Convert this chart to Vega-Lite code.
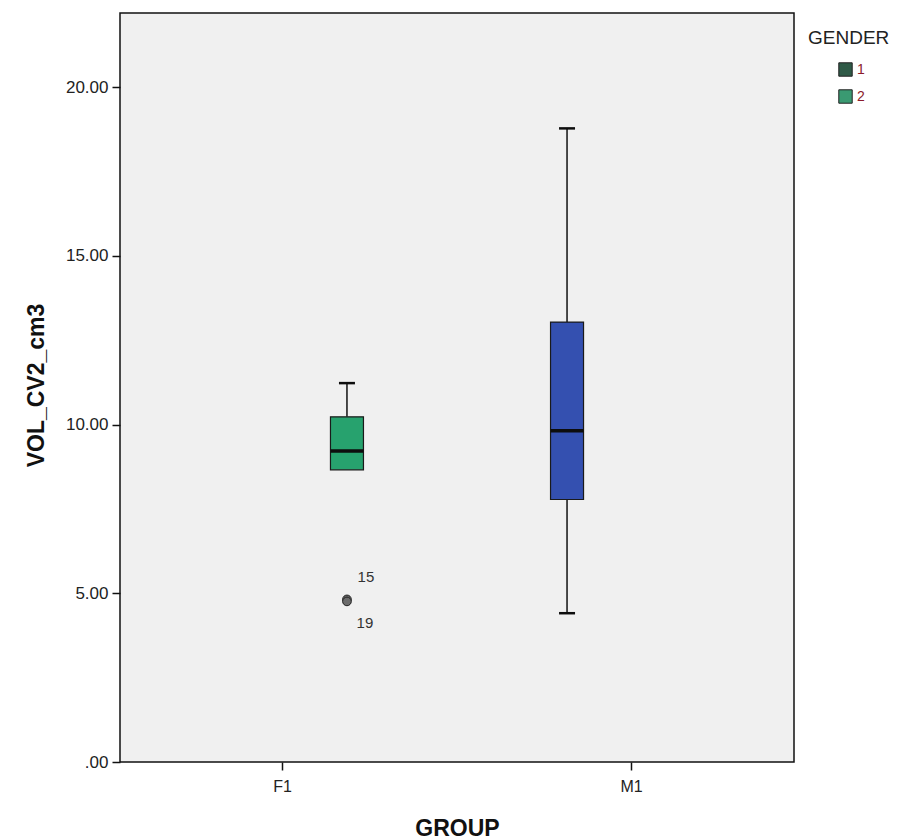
{
  "$schema": "https://vega.github.io/schema/vega-lite/v6.json",
  "width": 674,
  "height": 749,
  "autosize": {"type": "none"},
  "padding": {"left": 120, "top": 13, "right": 110, "bottom": 77},
  "background": "#ffffff",
  "config": {
    "font": "Liberation Sans",
    "view": {"fill": "#f0f0f0", "stroke": "#111111", "strokeWidth": 1.5}
  },
  "datasets": {
    "boxes": [
      {"GROUP": "F1", "GENDER": "2", "lower": 8.66, "q1": 8.66, "median": 9.22, "q3": 10.23, "upper": 11.23},
      {"GROUP": "M1", "GENDER": "1", "lower": 4.41, "q1": 7.78, "median": 9.82, "q3": 13.04, "upper": 18.78}
    ],
    "outliers": [
      {"GROUP": "F1", "GENDER": "2", "value": 4.82, "case": "15"},
      {"GROUP": "F1", "GENDER": "2", "value": 4.76, "case": "19"}
    ]
  },
  "encoding": {
    "x": {
      "field": "GROUP", "type": "nominal",
      "scale": {"domain": ["F1", "M1"], "paddingInner": 0.261, "paddingOuter": 0.096},
      "axis": {
        "title": "GROUP", "titleFontSize": 23, "titleFontWeight": "bold", "titleColor": "#111",
        "titleY": 66, "titleBaseline": "middle",
        "labelAngle": 0, "labelFontSize": 16, "labelColor": "#222", "labelPadding": 8,
        "tickSize": 8, "tickColor": "#111", "tickWidth": 1.5, "domain": false
      }
    },
    "xOffset": {
      "field": "GENDER", "type": "nominal",
      "scale": {"domain": ["1", "2"], "paddingInner": 0, "paddingOuter": 0}
    }
  },
  "layer": [
    {
      "data": {"name": "boxes"},
      "mark": {"type": "rule", "color": "#111", "strokeWidth": 1.5},
      "encoding": {
        "y": {"field": "lower", "type": "quantitative",
          "scale": {"domain": [0, 22.2], "nice": false, "zero": false},
          "axis": {
            "title": "VOL_CV2_cm3", "titleFontSize": 23, "titleFontWeight": "bold", "titleColor": "#111",
            "titleX": -84, "titleY": 372, "titleBaseline": "middle", "titleAngle": 270,
            "values": [0, 5, 10, 15, 20],
            "labelExpr": "datum.value == 0 ? '.00' : format(datum.value, '.2f')",
            "labelFontSize": 17, "labelColor": "#222", "labelPadding": 4,
            "tickSize": 8, "tickColor": "#111", "tickWidth": 1.5, "grid": false, "domain": false
          }
        },
        "y2": {"field": "q1"}
      }
    },
    {
      "data": {"name": "boxes"},
      "mark": {"type": "rule", "color": "#111", "strokeWidth": 1.5},
      "encoding": {
        "y": {"field": "q3", "type": "quantitative"},
        "y2": {"field": "upper"}
      }
    },
    {
      "data": {"name": "boxes"},
      "mark": {"type": "bar", "width": 33, "stroke": "#1a1a1a", "strokeWidth": 1.2},
      "encoding": {
        "y": {"field": "q1", "type": "quantitative"},
        "y2": {"field": "q3"},
        "fill": {"field": "GROUP", "type": "nominal",
          "scale": {"domain": ["F1", "M1"], "range": ["#27a26e", "#3450b0"]},
          "legend": null}
      }
    },
    {
      "data": {"name": "boxes"},
      "mark": {"type": "tick", "size": 33, "thickness": 3.5, "color": "#0d0d0d", "opacity": 1},
      "encoding": {"y": {"field": "median", "type": "quantitative"}}
    },
    {
      "data": {"name": "boxes"},
      "mark": {"type": "tick", "size": 16, "thickness": 2.5, "color": "#0d0d0d", "opacity": 1},
      "encoding": {"y": {"field": "upper", "type": "quantitative"}}
    },
    {
      "data": {"name": "boxes"},
      "transform": [{"filter": "datum.lower < datum.q1"}],
      "mark": {"type": "tick", "size": 16, "thickness": 2.5, "color": "#0d0d0d", "opacity": 1},
      "encoding": {"y": {"field": "lower", "type": "quantitative"}}
    },
    {
      "data": {"name": "outliers"},
      "mark": {"type": "point", "shape": "circle", "filled": true, "size": 75, "fill": "#6b6b6b", "stroke": "#222", "strokeWidth": 1, "opacity": 1},
      "encoding": {"y": {"field": "value", "type": "quantitative"}}
    },
    {
      "data": {"name": "outliers"},
      "transform": [{"filter": "datum.case == '15'"}],
      "mark": {"type": "text", "dx": 19, "dy": -22, "fontSize": 15, "color": "#333"},
      "encoding": {"y": {"field": "value", "type": "quantitative"}, "text": {"field": "case"}}
    },
    {
      "data": {"name": "outliers"},
      "transform": [{"filter": "datum.case == '19'"}],
      "mark": {"type": "text", "dx": 18, "dy": 22, "fontSize": 15, "color": "#333"},
      "encoding": {"y": {"field": "value", "type": "quantitative"}, "text": {"field": "case"}}
    },
    {
      "data": {"name": "boxes"},
      "mark": {"type": "point", "shape": "square", "filled": true, "opacity": 0},
      "encoding": {
        "y": {"field": "median", "type": "quantitative"},
        "color": {"field": "GENDER", "type": "nominal",
          "scale": {"domain": ["1", "2"], "range": ["#2f5a47", "#3a9a72"]},
          "legend": {
            "title": "GENDER", "orient": "none", "legendX": 688, "legendY": 16,
            "titleFontSize": 19, "titleFontWeight": "normal", "titleColor": "#222", "titlePadding": 14,
            "symbolType": "square", "symbolSize": 180, "symbolOpacity": 1,
            "symbolStrokeColor": "#222", "symbolStrokeWidth": 1, "symbolOffset": 30,
            "labelFontSize": 14, "labelColor": "#8b1a2a", "labelOffset": 4, "rowPadding": 8
          }
        }
      }
    }
  ]
}
